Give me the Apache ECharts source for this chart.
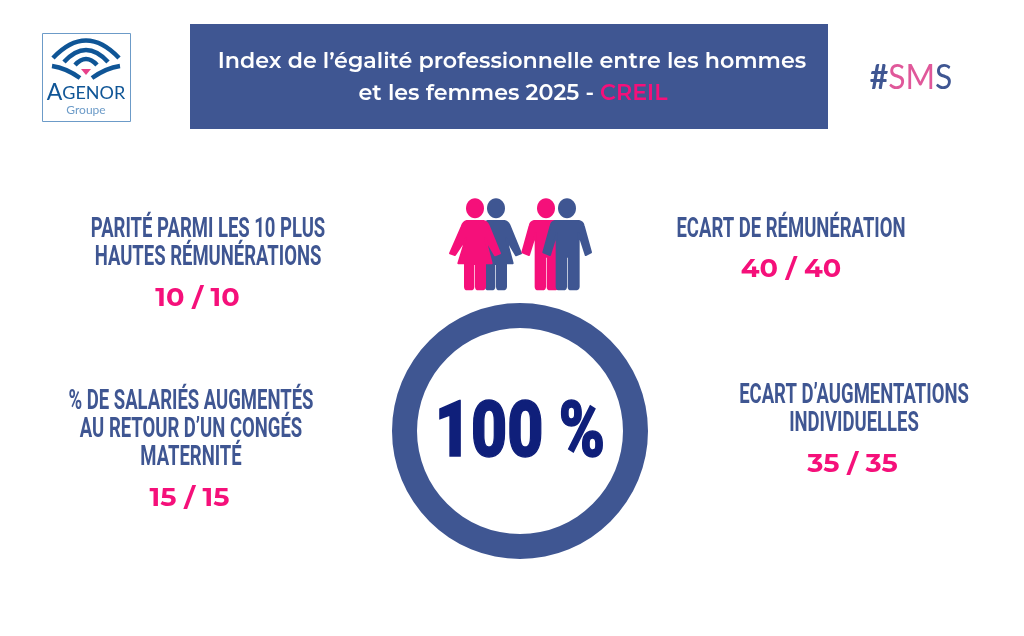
<!DOCTYPE html>
<html><head><meta charset="utf-8">
<style>html,body{margin:0;padding:0;background:#fff}#c{width:1024px;height:636px}</style>
<script src="https://cdn.jsdelivr.net/npm/echarts@6/dist/echarts.min.js"></script></head>
<body><div id="c"></div>
<script>
const titleLines = ['Index de l’égalité professionnelle entre les hommes', 'et les femmes 2025 - '];
const siteName = 'CREIL';
const totalLabel = '100 %';
const ringValues = [100];
const indicatorLabels = [
  ['PARITÉ PARMI LES 10 PLUS', 'HAUTES RÉMUNÉRATIONS'],
  ['% DE SALARIÉS AUGMENTÉS', 'AU RETOUR D’UN CONGÉS', 'MATERNITÉ'],
  ['ECART DE RÉMUNÉRATION'],
  ['ECART D’AUGMENTATIONS', 'INDIVIDUELLES']
];
const indicatorScores = ['10 / 10', '15 / 15', '40 / 40', '35 / 35'];

const BLUE = '#3F5692', PINK = '#F5107A', NAVY = '#0F1F7A', LOGO = '#0F5596';
const cond = {fontFamily: 'Roboto', fontWeight: 700, fontSize: 28};
const scoreFont = {fontFamily: 'Montserrat, Lato', fontWeight: 700, fontSize: 25};

function text(x, y, t, style, sx) {
  return {type: 'text', x, y, scaleX: sx || 1, z: 10,
    style: Object.assign({text: t, textAlign: 'center', textVerticalAlign: 'middle'}, style)};
}
const labelPos = [
  [{x: 208, y: 230}, {x: 208, y: 258}, {sx: 197.5, sy: 299}],
  [{x: 191, y: 402}, {x: 191, y: 430}, {x: 191, y: 458}, {sx: 189.5, sy: 499}],
  [{x: 791, y: 230}, {sx: 791, sy: 270}],
  [{x: 854, y: 396}, {x: 854, y: 424}, {sx: 852.5, sy: 465}]
];
const els = [];
indicatorLabels.forEach((lines, i) => {
  lines.forEach((l, j) => els.push(text(labelPos[i][j].x, labelPos[i][j].y, l,
    Object.assign({fill: BLUE}, cond), 0.66)));
  const p = labelPos[i][lines.length];
  els.push(text(p.sx, p.sy, indicatorScores[i], Object.assign({fill: PINK}, scoreFont), 1.09));
});

// header
els.push({type: 'rect', shape: {x: 190, y: 24, width: 638, height: 105}, style: {fill: BLUE}});
const titleFont = {fontFamily: 'Montserrat, Inter', fontWeight: 600, fontSize: 22.2};
els.push(text(512, 61, titleLines[0], Object.assign({fill: '#fff'}, titleFont)));
els.push({type: 'text', x: 513, y: 93, z: 10, style: {
  text: '{a|' + titleLines[1] + '}{b|' + siteName + '}', textAlign: 'center', textVerticalAlign: 'middle',
  rich: {a: Object.assign({fill: '#fff', color: '#fff'}, titleFont), b: Object.assign({fill: PINK, color: PINK}, titleFont)}
}});

// centre value
els.push(text(520, 436, totalLabel, {fill: NAVY, stroke: NAVY, lineWidth: 1.5, fontFamily: 'Roboto', fontWeight: 900, fontSize: 78}, 0.8));

// decorative shapes (the graphic component has no raw path type, so register them)
let shapeId = 0;
function pathEl(d, style, extra) {
  const name = 'deco' + (shapeId++);
  echarts.graphic.registerShape(name, echarts.graphic.extendPath(d, {}));
  return Object.assign({type: name, style}, extra || {});
}

// people pictogram
const woman = 'M80 93L130 93Q140 95 145 105L180 190L165 196L135 145L155 220L135 220L135 290Q135 298 125 298L115 298Q108 298 108 290L108 222L100 222L100 290Q100 298 92 298L82 298Q75 298 75 290L75 220L55 220L78 145L45 195L30 190L65 110Q70 95 80 93Z';
const man = 'M345 93L417 93Q428 95 431 107L453 187L437 195L416 130L416 290Q416 298 405 298L393 298Q386 298 386 290L386 200L378 200L378 290Q378 298 370 298L358 298Q350 298 350 290L350 130L330 195L310 187L332 107Q335 95 345 93Z';
function person(d, dx, headX, fill) {
  return [
    {type: 'ellipse', shape: {cx: headX, cy: 55, rx: 27, ry: 30}, style: {fill}},
    pathEl(d, {fill, stroke: fill, lineWidth: 6, lineJoin: 'round'}, {x: dx})
  ];
}
els.push({type: 'group', x: 440, y: 190, scaleX: 1 / 3, scaleY: 1 / 3, children: [].concat(
  person(woman, 63, 168, BLUE),
  person(woman, 0, 105, PINK),
  person(man, -63, 318, PINK),
  person(man, 0, 381, BLUE)
)});

// Agenor logo
els.push({type: 'rect', shape: {x: 42.5, y: 33.5, width: 88, height: 88}, style: {fill: '#fff', stroke: '#6C9BC8', lineWidth: 1}});
['M53 58Q86 23 119 58', 'M64 62Q86 38 108 62', 'M75 65Q86 53 97 65', 'M52 66Q66 68 80 78', 'M120 66Q106 68 92 78']
  .forEach(d => els.push(pathEl(d, {fill: 'none', stroke: LOGO, lineWidth: 4.5})));
els.push({type: 'polygon', shape: {points: [[81, 69], [91, 69], [86, 75]]}, style: {fill: '#E8408A'}});
els.push({type: 'text', x: 86, y: 93, z: 10, style: {
  text: '{a|A}{b|GENOR}', textAlign: 'center', textVerticalAlign: 'middle',
  rich: {a: {fontFamily: 'Lato', fontSize: 23, fill: LOGO, color: LOGO}, b: {fontFamily: 'Lato', fontSize: 18, fill: LOGO, color: LOGO}}
}});
els.push(text(86, 110.5, 'Groupe', {fill: '#6C9BC8', fontFamily: 'Lato', fontSize: 12}));

// #SMS
els.push({type: 'text', x: 911, y: 78, scaleX: 0.91, z: 10, style: {
  text: '{h|#}{b|SM}{a|S}', textAlign: 'center', textVerticalAlign: 'middle',
  rich: {h: {fontFamily: 'Lato', fontWeight: 700, fontSize: 35, fill: BLUE, color: BLUE},
         a: {fontFamily: 'Lato', fontWeight: 400, fontSize: 35, fill: BLUE, color: BLUE},
         b: {fontFamily: 'Lato', fontWeight: 400, fontSize: 35, fill: '#E0589A', color: '#E0589A'}}
}});

const chart = echarts.init(document.getElementById('c'), null, {renderer: 'canvas'});
chart.setOption({
  backgroundColor: '#fff', animation: false,
  series: [{type: 'pie', silent: true, center: [520, 431], radius: [103, 128],
    label: {show: false}, labelLine: {show: false},
    data: ringValues.map(v => ({value: v, itemStyle: {color: BLUE}}))}],
  graphic: {elements: els}
});
</script></body></html>
